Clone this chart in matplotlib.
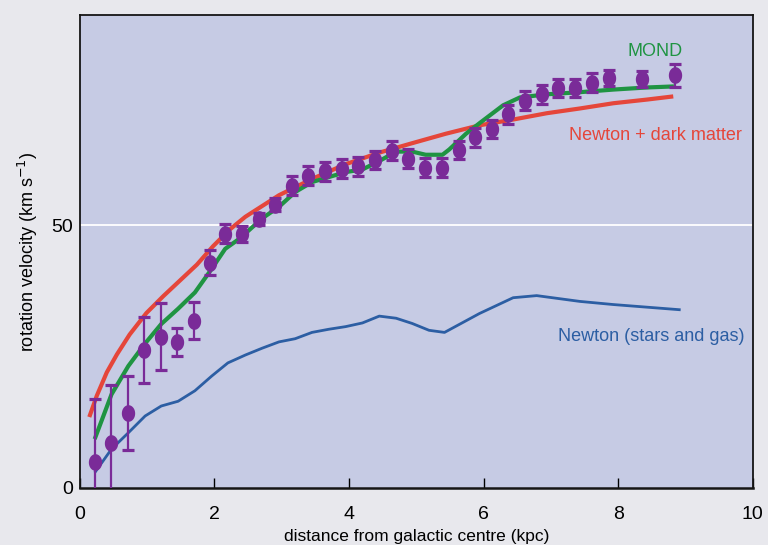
import numpy as np
import matplotlib
matplotlib.use("Agg")
import matplotlib.pyplot as plt
from matplotlib.path import Path

# ---- data ----
obs_r = [0.22, 0.47, 0.72, 0.96, 1.20, 1.44, 1.69, 1.94, 2.16, 2.41, 2.66, 2.90,
         3.15, 3.39, 3.64, 3.89, 4.14, 4.39, 4.64, 4.88, 5.13, 5.38, 5.63, 5.88,
         6.13, 6.37, 6.62, 6.87, 7.11, 7.36, 7.61, 7.86, 8.36, 8.85]
obs_v = [4.9, 8.6, 14.3, 26.3, 28.8, 27.8, 31.8, 42.9, 48.4, 48.3, 51.2, 53.9,
         57.5, 59.4, 60.3, 60.7, 61.2, 62.4, 64.2, 62.6, 60.9, 60.9, 64.3, 66.7,
         68.3, 71.1, 73.7, 74.9, 76.1, 76.1, 77.1, 78.0, 77.8, 78.5]
obs_err = [12.0, 11.0, 7.0, 6.3, 6.4, 2.6, 3.5, 2.3, 1.8, 1.5, 1.2, 1.2,
           1.8, 1.8, 1.8, 1.8, 1.8, 1.8, 1.8, 1.8, 1.8, 1.8, 1.8, 1.8,
           1.8, 1.8, 1.8, 1.8, 1.8, 1.8, 1.8, 1.6, 1.6, 2.2]

dm_r = [0.14, 0.25, 0.40, 0.55, 0.74, 0.99, 1.24, 1.49, 1.74, 1.98, 2.23, 2.46,
        2.96, 3.45, 3.95, 4.45, 4.94, 5.44, 5.94, 6.44, 6.94, 7.43, 7.93, 8.43,
        8.82]
dm_v = [13.5, 17.5, 22.0, 25.4, 29.2, 33.3, 36.5, 39.5, 42.5, 46.0, 49.2, 51.6,
        55.7, 58.8, 61.6, 63.8, 65.6, 67.4, 69.0, 70.1, 71.3, 72.2, 73.2, 73.9,
        74.5]

mond_r = [0.22, 0.47, 0.72, 0.97, 1.21, 1.46, 1.71, 1.96, 2.16, 2.38, 2.71, 2.96,
          3.20, 3.45, 3.95, 4.20, 4.45, 4.70, 4.94, 5.14, 5.39, 5.49, 5.74, 5.94,
          6.29, 6.54, 6.94, 7.43, 7.93, 8.43, 8.83]
mond_v = [9.3, 17.8, 23.2, 27.5, 31.2, 34.1, 37.2, 41.7, 45.5, 47.5, 51.3, 53.5,
          56.3, 58.2, 60.1, 60.6, 62.2, 64.0, 64.0, 63.4, 63.4, 64.4, 67.4, 69.4,
          72.8, 74.3, 74.9, 75.3, 75.8, 76.2, 76.4]

bary_r = [0.22, 0.47, 0.72, 0.97, 1.21, 1.46, 1.71, 1.96, 2.20, 2.46, 2.71, 2.96,
          3.20, 3.45, 3.70, 3.95, 4.20, 4.45, 4.70, 4.94, 5.19, 5.42, 5.94, 6.44,
          6.79, 7.43, 7.93, 8.93]
bary_v = [2.9, 7.4, 10.5, 13.7, 15.6, 16.5, 18.5, 21.3, 23.8, 25.3, 26.6, 27.8,
          28.4, 29.6, 30.2, 30.7, 31.4, 32.7, 32.3, 31.3, 30.0, 29.6, 33.2, 36.2,
          36.6, 35.5, 34.9, 33.9]

x_ticks = [0, 2, 4, 6, 8, 10]
y_ticks = [0, 50]

# ---- style ----
BG_FIG = "#e8e8ed"
BG_AX = "#c6cbe4"
RED = "#e5463a"
GREEN = "#1f9442"
BLUE = "#2c5ea3"
PURPLE = "#7a2b98"

SANS = ["Liberation Sans", "DejaVu Sans"]
plt.rcParams["font.family"] = SANS

fig = plt.figure(figsize=(7.68, 5.45), dpi=100, facecolor=BG_FIG)
ax = fig.add_axes([0.104, 0.1046, 0.876, 0.868])
ax.set_facecolor(BG_AX)

ax.axhline(50, color="white", lw=1.3, zorder=1)

ax.plot(bary_r, bary_v, color=BLUE, lw=2.0, solid_capstyle="butt",
        solid_joinstyle="round", zorder=2)
ax.plot(dm_r, dm_v, color=RED, lw=3.0, solid_capstyle="butt",
        solid_joinstyle="round", zorder=3)
ax.plot(mond_r, mond_v, color=GREEN, lw=3.0, solid_capstyle="butt",
        solid_joinstyle="round", zorder=4)

# vertically elongated oval marker
t = np.linspace(0, 2 * np.pi, 40)
oval = Path(np.column_stack([0.8 * np.cos(t), np.sin(t)]), closed=True)
ax.errorbar(obs_r, obs_v, yerr=obs_err, fmt="none", ecolor=PURPLE,
            elinewidth=1.6, capsize=4.6, capthick=2.3, zorder=5)
ax.plot(obs_r, obs_v, linestyle="none", marker=oval, markersize=12,
        color=PURPLE, markeredgewidth=0, zorder=6)

ax.set_xlim(0, 10)
ax.set_ylim(0, 90)
ax.set_xticks(x_ticks)
ax.set_yticks(y_ticks)
ax.tick_params(axis="x", direction="in", length=7, width=1.0, pad=13,
               labelsize=14, top=False)
ax.tick_params(axis="y", length=0, pad=5, labelsize=14)
for s in ax.spines.values():
    s.set_linewidth(1.3)
    s.set_color("#151515")
ax.spines["bottom"].set_linewidth(1.8)

ax.set_xlabel("distance from galactic centre (kpc)", fontsize=12.5, labelpad=4)
ax.set_ylabel("rotation velocity (km s$^{-1}$)", fontsize=13, labelpad=8)

ax.text(8.55, 83.0, "MOND", color=GREEN, fontsize=13, ha="center", va="center")
ax.text(8.55, 67.0, "Newton + dark matter", color=RED, fontsize=13,
        ha="center", va="center")
ax.text(8.5, 28.8, "Newton (stars and gas)", color=BLUE, fontsize=13,
        ha="center", va="center")

fig.savefig("out.png", dpi=100, facecolor=BG_FIG)
